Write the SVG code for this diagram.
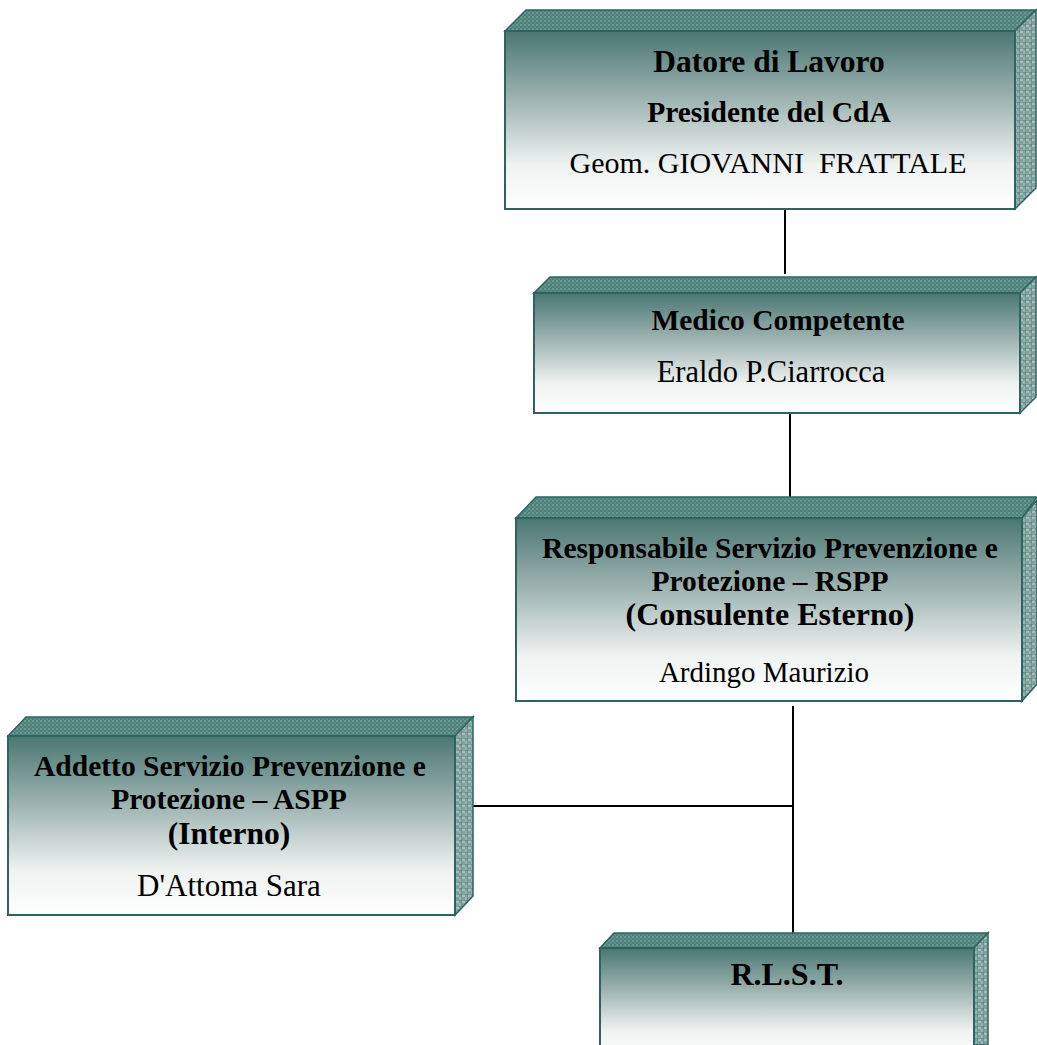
<svg xmlns="http://www.w3.org/2000/svg" width="1037" height="1045" viewBox="0 0 1037 1045">
<defs>
<linearGradient id="gf" x1="0" y1="0" x2="0" y2="1">
<stop offset="0" stop-color="#4a7773"/>
<stop offset="0.35" stop-color="#97aeab"/>
<stop offset="0.75" stop-color="#eef2f1"/>
<stop offset="1" stop-color="#ffffff"/>
</linearGradient>
<pattern id="pt" width="4" height="4" patternUnits="userSpaceOnUse">
<rect width="4" height="4" fill="#4f807b"/>
<rect width="2" height="2" fill="#6a9893"/>
<rect x="2" y="2" width="2" height="2" fill="#5e8d88"/>
</pattern>
<pattern id="ps" width="6" height="6" patternUnits="userSpaceOnUse">
<rect width="6" height="6" fill="#7fa09c"/>
<rect width="3" height="3" fill="#a9bfbc"/>
<rect x="3" y="3" width="3" height="3" fill="#98b2ae"/>
<path d="M0 0H6V6" fill="none" stroke="#4f807b" stroke-width="1"/>
</pattern>
</defs>
<style>
.front{fill:url(#gf);stroke:#2e6460;stroke-width:2}
.top{fill:url(#pt);stroke:#2e6460;stroke-width:1.5}
.side{fill:url(#ps);stroke:#2e6460;stroke-width:1.5}
.b{font-family:"Liberation Serif","Times New Roman",serif;font-weight:bold;font-size:29.5px;fill:#000;text-anchor:middle}
.r{font-family:"Liberation Serif","Times New Roman",serif;font-size:30px;fill:#000;text-anchor:middle;white-space:pre}
.conn{stroke:#000;stroke-width:2;fill:none}
</style>
<rect width="1037" height="1045" fill="#fff"/>
<g id="connectors">
<line class="conn" x1="785" y1="208" x2="785" y2="274"/>
<line class="conn" x1="790" y1="412" x2="790" y2="498"/>
<line class="conn" x1="793" y1="706" x2="793" y2="934"/>
<line class="conn" x1="472" y1="806" x2="793" y2="806"/>
</g>
<g id="datore">
<polygon class="top" points="505,31 526,10 1036,10 1015,31"/>
<polygon class="side" points="1015,31 1036,10 1036,188 1015,209"/>
<rect class="front" x="505" y="31" width="510" height="178"/>
<text class="b" x="769" y="72" style="font-size:31.5px">Datore di Lavoro</text>
<text class="b" x="769" y="122">Presidente del CdA</text>
<text class="r" x="768" y="173" xml:space="preserve">Geom. GIOVANNI  FRATTALE</text>
</g>
<g id="medico">
<polygon class="top" points="534,293 550,277 1036,277 1020,293"/>
<polygon class="side" points="1020,293 1036,277 1036,397 1020,413"/>
<rect class="front" x="534" y="293" width="486" height="120"/>
<text class="b" x="778" y="330">Medico Competente</text>
<text class="r" x="771" y="382" style="font-size:30.5px">Eraldo P.Ciarrocca</text>
</g>
<g id="rspp">
<polygon class="top" points="516,518 536,497 1037,497 1022,518"/>
<polygon class="side" points="1022,518 1037,500 1037,684 1022,701"/>
<rect class="front" x="516" y="518" width="506" height="183"/>
<text class="b" x="770" y="558">Responsabile Servizio Prevenzione e</text>
<text class="b" x="770" y="591">Protezione – RSPP</text>
<text class="b" x="770" y="625" style="font-size:32px">(Consulente Esterno)</text>
<text class="r" x="764" y="682" style="font-size:29px">Ardingo Maurizio</text>
</g>
<g id="aspp">
<polygon class="top" points="8,736 26,717 473,717 455,736"/>
<polygon class="side" points="455,736 473,717 473,896 455,915"/>
<rect class="front" x="8" y="736" width="447" height="179"/>
<text class="b" x="230" y="776">Addetto Servizio Prevenzione e</text>
<text class="b" x="229" y="809">Protezione – ASPP</text>
<text class="b" x="229" y="844" style="font-size:31.5px">(Interno)</text>
<text class="r" x="229" y="896" style="font-size:31px">D'Attoma Sara</text>
</g>
<g id="rlst">
<polygon class="top" points="600,948 614,933 988,933 974,948"/>
<polygon class="side" points="974,948 988,933 988,1045 974,1045"/>
<rect class="front" x="600" y="948" width="374" height="110"/>
<text class="b" x="787" y="985" style="font-size:32px">R.L.S.T.</text>
</g>
</svg>
